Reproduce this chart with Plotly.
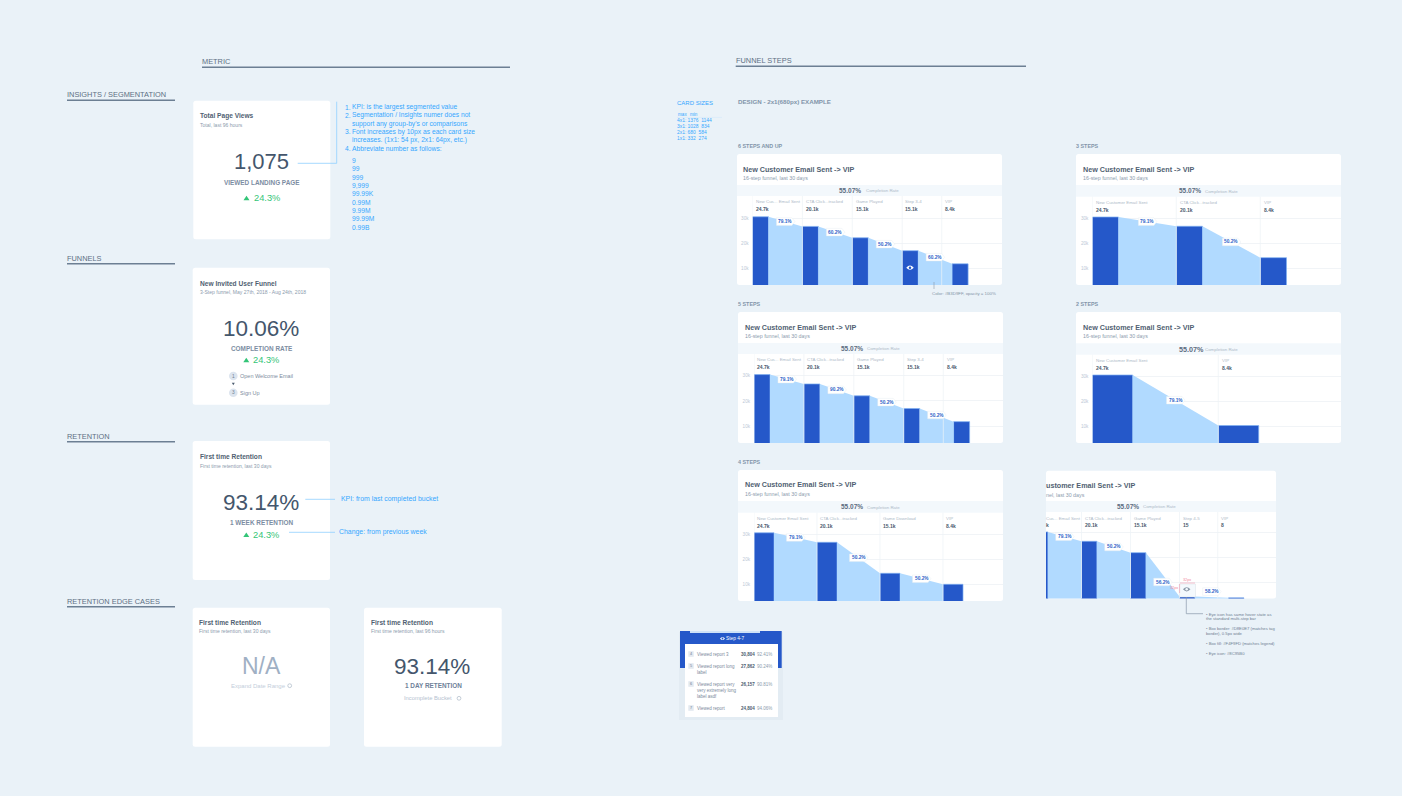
import plotly.graph_objects as go

W, H = 1402, 796
FONT = "Liberation Sans"

PAGE = "#eaf2f8"
CARD = "#ffffff"
BAND = "#f3f8fc"
INK = "#44566c"
TITLE = "#515f72"
MUTED = "#8c9bad"
FAINT = "#aebac8"
NOTE = "#35a7ff"
NOTE_LINE = "#8fd0ff"
GREEN = "#33c577"
RULE = "#6c7f93"
BAR = "#2558c9"
BAR_EDGE = "#7fb0f0"
AREA = "#b1daff"
GRID = "#f1f4f7"
TAG_TEXT = "#2e63c8"

# funnel data, read against each panel's own axis
six_steps = ["New Cus... Email Sent", "CTA Click...tracked", "Game Played", "Step 3-4", "VIP"]
six_counts = ["24.7k", "20.1k", "15.1k", "15.1k", "8.4k"]
six_values = [30800, 26900, 22300, 17100, 11800]
six_rates = ["79.1%", "60.2%", "50.2%", "60.2%"]

five_steps = ["New Cus... Email Sent", "CTA Click...tracked", "Game Played", "Step 3-4", "VIP"]
five_counts = ["24.7k", "20.1k", "15.1k", "15.1k", "8.4k"]
five_values = [30400, 26700, 22000, 17000, 11800]
five_rates = ["79.1%", "90.2%", "50.2%", "50.2%"]

four_steps = ["New Customer Email Sent", "CTA Click...tracked", "Game Download", "VIP"]
four_counts = ["24.7k", "20.1k", "15.1k", "8.4k"]
four_values = [30600, 26800, 14400, 10000]
four_rates = ["79.1%", "50.2%", "50.2%"]

three_steps = ["New Customer Email Sent", "CTA Click...tracked", "VIP"]
three_counts = ["24.7k", "20.1k", "8.4k"]
three_values = [30400, 26700, 14200]
three_rates = ["79.1%", "50.2%"]

two_steps = ["New Customer Email Sent", "VIP"]
two_counts = ["24.7k", "8.4k"]
two_values = [30400, 10200]
two_rates = ["79.1%"]

edge_steps = ["Cus... Email Sent", "CTA Click...tracked", "Game Played", "Step 4-5", "VIP"]
edge_counts = ["k", "20.1k", "15.1k", "15", "8"]
edge_values = [30400, 26600, 22000, 4300, 3700]
edge_rates = ["79.1%", "50.2%", "56.2%", "58.2%"]

axis_ticks = [10000, 20000, 30000]
axis_tick_labels = ["10k", "20k", "30k"]

COMPLETION = "55.07%"
KPI_CHANGE = "24.3%"

abbreviations = ["9", "99", "999", "9,999", "99.99K", "0.99M", "9.99M", "99.99M", "0.99B"]
card_size_rows = ["4x1: 1376  1144", "3x1: 1028  834", "2x1: 680  584", "1x1: 332  274"]

breakdown_ids = ["4", "5", "6", "7"]
breakdown_names = [
    ["Viewed report 3"],
    ["Viewed report long", "label"],
    ["Viewed report very", "very extremely long", "label asdf"],
    ["Viewed report"],
]
breakdown_counts = ["30,804", "27,862", "26,157", "24,804"]
breakdown_rates = ["92.41%", "90.24%", "90.81%", "94.06%"]


def fx(px):
    return px / W


def fy(py):
    return 1 - py / H


shapes = []
annotations = []


def text(x, y, s, size, color, bold=False, anchor="left", angle=0):
    annotations.append(dict(
        x=fx(x), y=fy(y), xref="paper", yref="paper", text=s, showarrow=False,
        xanchor=anchor, yanchor="middle", borderpad=0, borderwidth=0, textangle=angle,
        font=dict(family=FONT, size=size, color=color, weight=700 if bold else 400),
    ))


def rect(x0, y0, x1, y1, fill, line=None, width=0, layer="below"):
    shapes.append(dict(
        type="rect", xref="paper", yref="paper", layer=layer,
        x0=fx(x0), x1=fx(x1), y0=fy(y0), y1=fy(y1), fillcolor=fill,
        line=dict(color=line or fill, width=width),
    ))


def rounded(x0, y0, x1, y1, fill, r=2.5, layer="below"):
    a, b, c, d = fx(x0), fx(x1), fy(y0), fy(y1)
    rx, ry = r / W, r / H
    path = (f"M{a + rx},{c} L{b - rx},{c} Q{b},{c} {b},{c - ry} L{b},{d + ry} Q{b},{d} {b - rx},{d} "
            f"L{a + rx},{d} Q{a},{d} {a},{d + ry} L{a},{c - ry} Q{a},{c} {a + rx},{c} Z")
    shapes.append(dict(type="path", xref="paper", yref="paper", layer=layer, path=path,
                       fillcolor=fill, line=dict(width=0)))


def segment(points, color, width=0.8, layer="below"):
    path = "M" + " L".join(f"{fx(x)},{fy(y)}" for x, y in points)
    shapes.append(dict(type="path", xref="paper", yref="paper", layer=layer, path=path,
                       line=dict(color=color, width=width)))


def triangle(cx, cy, w, h, color, up=True):
    tip = cy - h / 2 if up else cy + h / 2
    base = cy + h / 2 if up else cy - h / 2
    path = f"M{fx(cx - w / 2)},{fy(base)} L{fx(cx + w / 2)},{fy(base)} L{fx(cx)},{fy(tip)} Z"
    shapes.append(dict(type="path", xref="paper", yref="paper", layer="below", path=path,
                       fillcolor=color, line=dict(width=0)))


def circle(cx, cy, r, fill, line=None, width=0, layer="below"):
    shapes.append(dict(
        type="circle", xref="paper", yref="paper", layer=layer,
        x0=fx(cx - r), x1=fx(cx + r), y0=fy(cy - r), y1=fy(cy + r),
        fillcolor=fill, line=dict(color=line or fill, width=width),
    ))


def eye(cx, cy, w, h, color, pupil):
    a, b = fx(cx - w / 2), fx(cx + w / 2)
    m, top, bot = fx(cx), fy(cy - h), fy(cy + h)
    path = f"M{a},{fy(cy)} Q{m},{top} {b},{fy(cy)} Q{m},{bot} {a},{fy(cy)} Z"
    shapes.append(dict(type="path", xref="paper", yref="paper", layer="above", path=path,
                       fillcolor=color, line=dict(width=0)))
    circle(cx, cy, h * 0.3, pupil, layer="above")


def section(x, y, label, rule_to):
    text(x, y, label, 7.4, "#5d6f83")
    rect(x, y + 5, rule_to, y + 6.6, RULE)


def change_row(tri_x, text_x, y):
    triangle(tri_x, y, 6, 4.6, GREEN)
    text(text_x, y, KPI_CHANGE, 9.3, GREEN)


def kpi_card(x0, y0, x1, y1, title, subtitle, title_x, title_y, sub_y):
    rounded(x0, y0, x1, y1, CARD)
    text(title_x, title_y, title, 6.6, TITLE, bold=True)
    text(title_x, sub_y, subtitle, 5.05, MUTED)


# section headers
section(202, 61.5, "METRIC", 510)
section(67, 94.5, "INSIGHTS / SEGMENTATION", 175)
section(67, 258, "FUNNELS", 175)
section(67, 436, "RETENTION", 175)
section(67, 601, "RETENTION EDGE CASES", 175)
section(735.7, 60.5, "FUNNEL STEPS", 1026)

# insights card and its notes
kpi_card(193.3, 100.7, 330.3, 239.3, "Total Page Views", "Total, last 96 hours", 200, 116, 125.3)
text(261.5, 162, "1,075", 22, INK, anchor="center")
text(262, 182.5, "VIEWED LANDING PAGE", 6.4, "#7c8da2", bold=True, anchor="center")
change_row(246.5, 253.7, 198)
segment([(297.7, 163.3), (336.7, 163.3), (336.7, 101.7)], NOTE_LINE)
note_lines = [
    (344.7, 107, "1."), (352, 107, "KPI: is the largest segmented value"),
    (344.7, 115.5, "2."), (352, 115.5, "Segmentation / Insights numer does not"),
    (352, 123.8, "support any group-by's or comparisons"),
    (344.7, 132, "3."), (352, 132, "Font increases by 10px as each card size"),
    (352, 140.2, "increases. (1x1: 54 px, 2x1: 64px, etc.)"),
    (344.7, 148.5, "4."), (352, 148.5, "Abbreviate number as follows:"),
]
for nx, ny, s in note_lines:
    text(nx, ny, s, 6.7, NOTE)
for i, s in enumerate(abbreviations):
    text(352, 160.7 + i * 8.29, s, 6.7, NOTE)

# funnel card
kpi_card(192.7, 267.7, 330, 404.7, "New Invited User Funnel",
         "3-Step funnel, May 27th, 2018 - Aug 24th, 2018", 199.5, 283, 292)
text(261, 328.3, "10.06%", 22.5, INK, anchor="center")
text(262, 348.3, "COMPLETION RATE", 6.4, "#7c8da2", bold=True, anchor="center")
change_row(246.3, 253.3, 360)
circle(233.3, 376, 4.3, "#dce4ee")
text(233.3, 376, "1", 4.8, "#6e7f93", anchor="center")
text(240, 376, "Open Welcome Email", 5.5, "#7d8c9e")
triangle(233.3, 384, 3, 2.6, "#4d5d70", up=False)
circle(233.3, 392.7, 4.3, "#dce4ee")
text(233.3, 392.7, "3", 4.8, "#6e7f93", anchor="center")
text(240, 392.7, "Sign Up", 5.5, "#7d8c9e")

# retention card and its notes
kpi_card(192.7, 441, 330, 580, "First time Retention", "First time retention, last 30 days",
         199.5, 456.7, 466)
text(261, 502.7, "93.14%", 22.5, INK, anchor="center")
text(262, 522.3, "1 WEEK RETENTION", 6.4, "#7c8da2", bold=True, anchor="center")
change_row(246.3, 253.3, 534.7)
segment([(305.3, 499.3), (335, 499.3)], NOTE_LINE)
text(341, 499, "KPI: from last completed bucket", 6.9, NOTE)
segment([(289, 532.3), (335, 532.3)], NOTE_LINE)
text(339, 531.7, "Change: from previous week", 6.9, NOTE)

# retention edge cases
kpi_card(192.7, 607.7, 330, 746.7, "First time Retention", "First time retention, last 30 days",
         199.3, 622.7, 631.3)
text(261.3, 666, "N/A", 23, "#9fb0c4", anchor="center")
text(231, 685.7, "Expand Date Range", 6, "#c3cedb")
circle(289.7, 685.7, 1.9, "rgba(0,0,0,0)", "#aab7c6", 0.7)

kpi_card(364, 607.7, 501.7, 746.7, "First time Retention", "First time retention, last 96 hours",
         371, 622.7, 631.3)
text(432, 666.7, "93.14%", 22.5, INK, anchor="center")
text(433, 685.3, "1 DAY RETENTION", 6.4, "#6e8199", bold=True, anchor="center")
text(404.3, 698.3, "Incomplete Bucket", 5.8, "#b6c2d0")
circle(459, 698.3, 1.9, "rgba(0,0,0,0)", "#aab7c6", 0.7)

# headings over the funnel panels
text(676.7, 103.3, "CARD SIZES", 6, NOTE, bold=False)
text(738.3, 101.7, "DESIGN - 2x1(680px) EXAMPLE", 6.2, "#8295aa", bold=True)
text(678, 115, "max", 4.6, NOTE)
text(690, 115, "min", 4.6, NOTE)
segment([(677, 117.4), (722, 117.4)], "#cfe6fa", 0.5)
for i, s in enumerate(card_size_rows):
    text(676.7, 120.7 + i * 5.8, s, 4.9, NOTE)
text(738.3, 145.7, "6 STEPS AND UP", 5.4, "#8295aa", bold=True)
text(1076, 146, "3 STEPS", 5.4, "#8295aa", bold=True)
text(1076, 304, "2 STEPS", 5.4, "#8295aa", bold=True)
text(738.3, 304, "5 STEPS", 5.4, "#8295aa", bold=True)
text(738.3, 461.7, "4 STEPS", 5.4, "#8295aa", bold=True)

# panel geometry: pixel placement of each funnel and the step scale used by its x axis
panels = [
    dict(steps=six_steps, counts=six_counts, values=six_values, rates=six_rates,
         card=(737, 154, 1002, 285), band=(185, 196), text_x=743, pct_x=(839, 865.7), pct_size=6.5,
         left=752.5, pitch=49.9, bar=16, zero=293, scale=2.475, last_col=941.7, ticks=True,
         title="New Customer Email Sent -> VIP", sub="16-step funnel, last 30 days"),
    dict(steps=five_steps, counts=five_counts, values=five_values, rates=five_rates,
         card=(738, 312, 1003, 443), band=(343, 354), text_x=744.7, pct_x=(840.7, 867), pct_size=6.5,
         left=754, pitch=49.9, bar=16, zero=451.5, scale=2.53, last_col=943.3, ticks=True,
         title="New Customer Email Sent -> VIP", sub="16-step funnel, last 30 days"),
    dict(steps=four_steps, counts=four_counts, values=four_values, rates=four_rates,
         card=(738, 470, 1003, 601), band=(501, 512.7), text_x=744.7, pct_x=(840.7, 867), pct_size=6.5,
         left=754, pitch=63, bar=20, zero=609.3, scale=2.5, last_col=None, ticks=True,
         title="New Customer Email Sent -> VIP", sub="16-step funnel, last 30 days"),
    dict(steps=three_steps, counts=three_counts, values=three_values, rates=three_rates,
         card=(1076, 154, 1341, 285), band=(185, 196.7), text_x=1082.7, pct_x=(1178.7, 1205), pct_size=6.5,
         left=1092.3, pitch=84, bar=26.2, zero=293.3, scale=2.51, last_col=None, ticks=True,
         title="New Customer Email Sent -> VIP", sub="16-step funnel, last 30 days"),
    dict(steps=two_steps, counts=two_counts, values=two_values, rates=two_rates,
         card=(1076, 312, 1341, 443), band=(343.3, 354.7), text_x=1082.7, pct_x=(1178.7, 1205), pct_size=7.2,
         left=1092.3, pitch=126, bar=40.4, zero=451, scale=2.5, last_col=None, ticks=True,
         title="New Customer Email Sent -> VIP", sub="16-step funnel, last 30 days"),
    dict(steps=edge_steps, counts=edge_counts, values=edge_values, rates=edge_rates,
         card=(1046, 470.7, 1276, 598.5), band=(501, 512), text_x=1046, pct_x=(1117.3, 1143), pct_size=6.5,
         left=1032.5, pitch=49, bar=15.4, zero=607, scale=2.47, last_col=1217.7, ticks=False,
         title="ustomer Email Sent -> VIP", sub="nel, last 30 days", tag_shift=[0, 0, -7.5, 5.5]),
]

fig = go.Figure()
layout_axes = {}

for n, p in enumerate(panels, start=1):
    x0, y0, x1, y1 = p["card"]
    bx0, by1 = p["band"]
    suffix = "" if n == 1 else str(n)
    xname, yname = f"x{suffix}", f"y{suffix}"

    rounded(x0, y0, x1, y1, CARD)
    rect(x0, bx0, x1, by1, BAND)
    text(p["text_x"], y0 + 15, p["title"], 7.2, TITLE, bold=True)
    text(p["text_x"], y0 + 24.3, p["sub"], 5.3, MUTED)
    text(p["pct_x"][0], (bx0 + by1) / 2, COMPLETION, p["pct_size"], "#5b6b7f", bold=True)
    text(p["pct_x"][1], (bx0 + by1) / 2 + 0.3, "Completion Rate", 4.4, FAINT)

    # x axis runs in step units; the first bar's centre is step 0
    half = p["bar"] / p["pitch"] / 2
    plot_left = max(p["left"], x0)
    x_low = (plot_left - p["left"]) / p["pitch"] - half
    x_high = (x1 - p["left"]) / p["pitch"] - half
    y_low = (p["zero"] - y1) / p["scale"] * 1000
    y_high = (p["zero"] - by1) / p["scale"] * 1000

    layout_axes[f"xaxis{suffix}"] = dict(
        domain=[fx(plot_left), fx(x1)], range=[x_low, x_high], anchor=yname,
        showgrid=False, zeroline=False, showticklabels=False, ticks="", showline=False, fixedrange=True,
    )
    layout_axes[f"yaxis{suffix}"] = dict(
        domain=[fy(y1), fy(by1)], range=[y_low, y_high], anchor=xname,
        tickvals=axis_ticks, ticktext=axis_tick_labels, showticklabels=p["ticks"],
        tickfont=dict(family=FONT, size=4.6, color="#bcc8d6"), gridcolor=GRID, gridwidth=0.7,
        zeroline=False, ticks="", showline=False, fixedrange=True, ticklabelstandoff=3,
    )

    steps_x = list(range(len(p["values"])))
    fig.add_trace(go.Bar(
        x=steps_x, y=p["values"], width=p["bar"] / p["pitch"], xaxis=xname, yaxis=yname,
        marker=dict(color=BAR, line=dict(color=BAR_EDGE, width=0.7)), hoverinfo="skip", showlegend=False,
    ))

    # each conversion wedge runs from one bar's top right corner to the next bar's top left corner
    for i in steps_x[:-1]:
        fig.add_trace(go.Scatter(
            x=[i + half, i + 1 - half], y=[p["values"][i], p["values"][i + 1]],
            mode="lines", line=dict(width=0), fill="tozeroy", fillcolor=AREA,
            xaxis=xname, yaxis=yname, hoverinfo="skip", showlegend=False,
        ))

    # columns start at each step's bar, apart from a narrower closing column in the wider funnels
    col_px = [p["left"] + i * p["pitch"] for i in steps_x]
    if p["last_col"]:
        col_px[-1] = p["last_col"]
    col_data = [(c - p["left"]) / p["pitch"] - half for c in col_px]
    for c_px, c_x, label, count in zip(col_px, col_data, p["steps"], p["counts"]):
        if c_px >= plot_left:
            shapes.append(dict(type="line", xref=xname, yref=f"{yname} domain", x0=c_x, x1=c_x, y0=0, y1=1,
                               layer="above", line=dict(color="#edf2f7", width=0.7)))
            text(c_px + 3.2, by1 + 6, label, 4.4, FAINT)
            text(c_px + 3.2, by1 + 13.4, count, 5, "#4a5a6e", bold=True)
        else:
            text(x0, by1 + 6, label, 4.4, FAINT)
            text(x0, by1 + 13.4, count, 5, "#4a5a6e", bold=True)

    # pointed rate tags sit halfway along each wedge
    shifts = p.get("tag_shift", [0] * len(p["rates"]))
    for i, (rate, shift) in enumerate(zip(p["rates"], shifts)):
        tx = i + 0.5
        ty = (p["values"][i] + p["values"][i + 1]) / 2
        shapes.append(dict(
            type="path", layer="above", xref=xname, yref=yname,
            xsizemode="pixel", ysizemode="pixel", xanchor=tx, yanchor=ty,
            path=f"M-9,{3.8 + shift} L6.5,{3.8 + shift} L9.5,{shift} L6.5,{-3.8 + shift} L-9,{-3.8 + shift} Z",
            fillcolor="#ffffff", line=dict(color="#e3eaf1", width=0.4),
        ))
        annotations.append(dict(
            x=tx, y=ty, xref=xname, yref=yname, text=rate, showarrow=False, yshift=shift,
            xanchor="center", yanchor="middle", borderpad=0, borderwidth=0,
            font=dict(family=FONT, size=4.8, color=TAG_TEXT, weight=700),
        ))

# annotations for the 6-step panel's fill colour and hover icon
eye(910, 267.7, 7.5, 4.2, "#ffffff", BAR)
segment([(934, 282), (934, 289)], "#8a99aa", 0.6, layer="above")
text(931.7, 293.3, "Color: #B3D9FF, opacity = 100%", 4.4, "#8394a7")

# hover box spec on the clipped panel
rect(1179.3, 584, 1195.5, 597, "#f4f9fd", "#d8e0e7", 0.5, layer="above")
eye(1186.7, 589.3, 7.5, 4.2, "#8b98a8", "#f4f9fd")
text(1186.7, 580.3, "32px", 3.8, "#f08aa0", anchor="center")
text(1174, 588.3, "32px", 3.8, "#f08aa0", anchor="center")
segment([(1179.6, 584), (1179.6, 593)], "#f08aa0", 0.5, layer="above")
segment([(1180, 583), (1195, 583)], "#f08aa0", 0.5, layer="above")
segment([(1186.3, 597), (1186.3, 613.7), (1203, 613.7)], "#8899ab", 0.7, layer="above")
for y, s in [(614, "• Eye icon has same hover state as"), (618.4, "the standard multi-step bar"),
             (628.7, "• Box border: #D8E0E7 (matches tag"), (633.3, "border), 0.5px wide"),
             (643.3, "• Box fill: #F4F9FD (matches legend)"), (653.3, "• Eye icon: #8C95B0")]:
    text(1205.7, y, s, 4.2, "#6f8093")

# step breakdown tooltip
rect(679, 632, 783, 720, "rgba(205,216,228,0.22)")
rect(680, 631, 781.7, 668, BAR)
rect(690, 631, 760, 633, "#cfe2f7")
eye(722.5, 638.5, 5, 3, "#ffffff", BAR)
text(726.5, 638.5, "Step 4-7", 4.8, "#ffffff", bold=False)
rect(685, 644, 778, 717, "#ffffff")
row_tops = [654, 666, 684, 708]
for rid, names, top, count, rate in zip(breakdown_ids, breakdown_names, row_tops,
                                        breakdown_counts, breakdown_rates):
    rect(688.3, top - 2.8, 693.7, top + 2.8, "#e3e9f0")
    text(691, top, rid, 3.8, "#6e7f93", anchor="center")
    for j, line in enumerate(names):
        text(697.3, top + j * 6, line, 4.5, "#7b8a9b")
    text(740.7, top, count, 4.5, "#4a5a6e", bold=True)
    text(757, top, rate, 4.5, "#8c9bad")

fig.update_layout(
    width=W, height=H, margin=dict(l=0, r=0, t=0, b=0, pad=0), autosize=False,
    paper_bgcolor=PAGE, plot_bgcolor="rgba(0,0,0,0)", barmode="overlay",
    shapes=shapes, annotations=annotations, showlegend=False, hovermode=False,
    **layout_axes,
)
fig.write_html("out.html", config={"displayModeBar": False})
